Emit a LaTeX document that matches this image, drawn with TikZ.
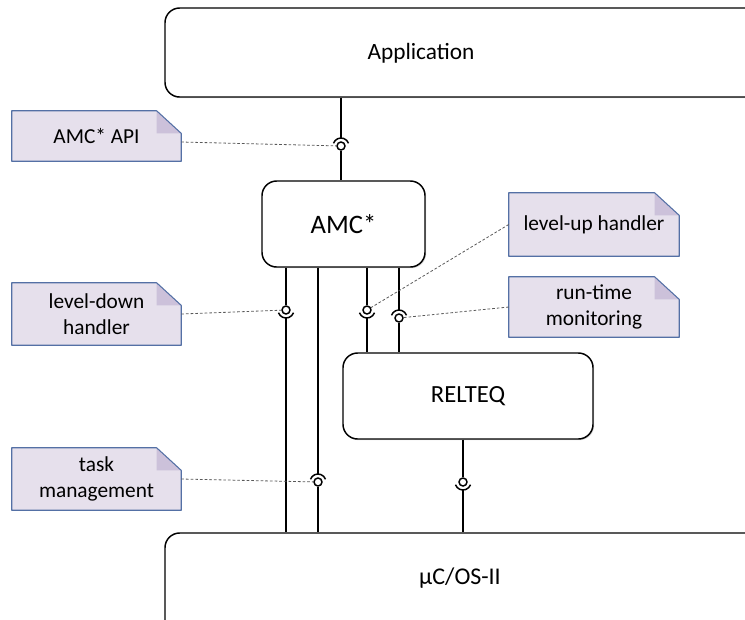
\documentclass[tikz,border=0pt]{standalone}
\usepackage{fontspec}
\setmainfont{Carlito}
\usetikzlibrary{shadows,backgrounds}
\definecolor{notefill}{RGB}{230,224,236}
\definecolor{notefold}{RGB}{204,193,218}
\definecolor{noteline}{RGB}{84,112,165}
\begin{document}
\begin{tikzpicture}[x=0.75pt, y=-0.75pt,
    blk/.style={draw, line width=1.1pt, rounded corners=11pt, fill=white,
      drop shadow={shadow xshift=0.9pt, shadow yshift=-0.9pt, opacity=0.3}},
    note/.style={align=center, inner sep=0pt, font=\fontsize{16}{19.5}\selectfont},
    ball/.style={circle, draw, line width=1.1pt, fill=white, inner sep=0pt, minimum size=6pt},
    wire/.style={line width=1.1pt},
    lead/.style={dash pattern=on 2pt off 1.5pt, black!65, line width=0.6pt}]
  \path[use as bounding box, clip] (0,0) rectangle (745,619);
  \node[blk, minimum width=476.25pt, minimum height=66.75pt] (app) at (482.5,52.5) {};
  \node[font=\fontsize{17.5}{20}\selectfont] (apptxt) at (421,53) {Application};
  \node[blk, minimum width=122.25pt, minimum height=64.5pt, font=\fontsize{20}{23}\selectfont] (amc) at (343.5,224) {AMC*};
  \node[blk, minimum width=187.5pt, minimum height=64.5pt, font=\fontsize{18.5}{22}\selectfont] (rel) at (468,396) {RELTEQ};
  \node[blk, minimum width=476.25pt, minimum height=100.5pt] (os) at (482.5,600) {};
  \node[font=\fontsize{18}{21}\selectfont] (ostxt) at (460,578) {µC/OS-II};
  \node[note, minimum width=126.75pt, minimum height=37.5pt] (api) at (96.5,136) {AMC* API};
  \node[note, minimum width=126.75pt, minimum height=46.5pt] (down) at (96.5,314) {level-down\\handler};
  \node[note, minimum width=126.75pt, minimum height=46.5pt] (task) at (96.5,479) {task\\management};
  \node[note, minimum width=127.5pt, minimum height=47.25pt] (up) at (594,224.5) {level-up handler};
  \node[note, minimum width=127.5pt, minimum height=45pt] (mon) at (594,307) {run-time\\monitoring};
  \begin{scope}[on background layer]
    \foreach \n in {api,down,task,up,mon} {
      \fill[notefill] (\n.south west) -- (\n.north west) -- ([xshift=-18.5pt]\n.north east)
        -- ([yshift=-17pt]\n.north east) -- (\n.south east) -- cycle;
      \fill[notefold] ([xshift=-18.5pt]\n.north east) -- ([xshift=-18.5pt, yshift=-17pt]\n.north east)
        -- ([yshift=-17pt]\n.north east) -- cycle;
      \draw[noteline, line width=0.8pt, line join=round] (\n.south west) -- (\n.north west)
        -- ([xshift=-18.5pt]\n.north east) -- ([yshift=-17pt]\n.north east) -- (\n.south east) -- cycle;
    }
  \end{scope}
  \node[ball] (b1) at (341,146) {};
  \node[ball] (b2) at (286,310) {};
  \node[ball] (b3) at (367,310) {};
  \node[ball] (b4) at (399,318) {};
  \node[ball] (b5) at (318,482) {};
  \node[ball] (b6) at (463,482) {};
  \foreach \b in {b1,b4,b5}
    \draw[wire] ([shift={(160:6pt)}]\b.center) arc[start angle=160, end angle=20, radius=6pt];
  \foreach \b in {b2,b3,b6}
    \draw[wire] ([shift={(200:6pt)}]\b.center) arc[start angle=200, end angle=340, radius=6pt];
  \draw[wire] (app.south -| b1) -- ([yshift=6pt]b1.center);
  \draw[wire] (b1.south) -- (b1 |- amc.north);
  \draw[wire] (amc.south -| b2) -- (b2.north);
  \draw[wire] ([yshift=-6pt]b2.center) -- (b2 |- os.north);
  \draw[wire] (amc.south -| b5) -- ([yshift=6pt]b5.center);
  \draw[wire] (b5.south) -- (b5 |- os.north);
  \draw[wire] (amc.south -| b3) -- (b3.north);
  \draw[wire] ([yshift=-6pt]b3.center) -- (b3 |- rel.north);
  \draw[wire] (amc.south -| b4) -- ([yshift=6pt]b4.center);
  \draw[wire] (b4.south) -- (b4 |- rel.north);
  \draw[wire] (rel.south -| b6) -- (b6.north);
  \draw[wire] ([yshift=-6pt]b6.center) -- (b6 |- os.north);
  \draw[lead] ([yshift=-4.5pt]api.east) -- (b1);
  \draw[lead] (down.east) -- (b2);
  \draw[lead] (task.east) -- (b5);
  \draw[lead] (up.west) -- (b3);
  \draw[lead] (mon.west) -- (b4);
\end{tikzpicture}
\end{document}
